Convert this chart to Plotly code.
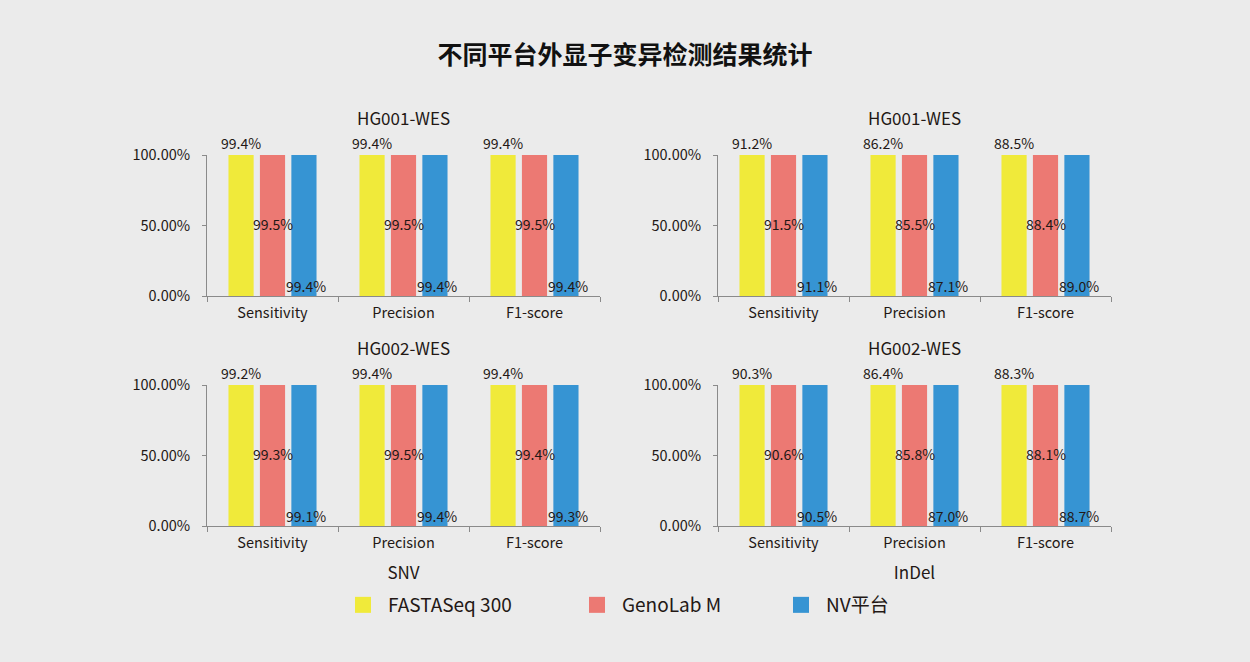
import plotly.graph_objects as go
from plotly.subplots import make_subplots

categories = ["Sensitivity", "Precision", "F1-score"]
series_names = ["FASTASeq 300", "GenoLab M", "NV平台"]
colors = ["#F0EA3A", "#EC7973", "#3694D3"]

snv_hg001 = {"FASTASeq 300": [99.4, 99.4, 99.4], "GenoLab M": [99.5, 99.5, 99.5], "NV平台": [99.4, 99.4, 99.4]}
snv_hg002 = {"FASTASeq 300": [99.2, 99.4, 99.4], "GenoLab M": [99.3, 99.5, 99.4], "NV平台": [99.1, 99.4, 99.3]}
indel_hg001 = {"FASTASeq 300": [91.2, 86.2, 88.5], "GenoLab M": [91.5, 85.5, 88.4], "NV平台": [91.1, 87.1, 89.0]}
indel_hg002 = {"FASTASeq 300": [90.3, 86.4, 88.3], "GenoLab M": [90.6, 85.8, 88.1], "NV平台": [90.5, 87.0, 88.7]}

panel_titles = ["HG001-WES", "HG001-WES", "HG002-WES", "HG002-WES"]
group_titles = ["SNV", "InDel"]
y_ticks = [0, 0.5, 1.0]

FONT = "Noto Sans CJK SC"
TXT = "#231815"
AX = "#8a8a8a"
W, H = 1250, 662
BARGAP = 0.28

panels = [(1, 1, snv_hg001), (1, 2, indel_hg001), (2, 1, snv_hg002), (2, 2, indel_hg002)]

fig = make_subplots(rows=2, cols=2)

xdom = [[207 / W, 600 / W], [718 / W, 1111 / W]]
ydom = [[1 - 296 / H, 1 - 155 / H], [1 - 526 / H, 1 - 385 / H]]

for k, (r, c, data) in enumerate(panels):
    for i, name in enumerate(series_names):
        fig.add_trace(go.Bar(
            x=categories, y=data[name], name=name,
            marker=dict(color=colors[i], line=dict(width=0)),
            showlegend=False, legendgroup=name,
        ), row=r, col=c)

# legend entries (square swatches), one legend box per entry
legend_ids = ["legend", "legend2", "legend3"]
for i, name in enumerate(series_names):
    fig.add_trace(go.Scatter(x=[None], y=[None], mode="markers", name=name, legendgroup=name,
                             legend=legend_ids[i],
                             marker=dict(symbol="square", size=16, color=colors[i]),
                             showlegend=True), row=1, col=1)

fig.update_layout(barmode="group", bargap=BARGAP, bargroupgap=0.2)

for r in (1, 2):
    for c in (1, 2):
        fig.update_xaxes(domain=xdom[c - 1], row=r, col=c, showline=True, linecolor=AX, linewidth=1,
                         ticks="outside", tickson="boundaries", ticklen=5, tickcolor=AX,
                         ticklabelstandoff=4,
                         tickfont=dict(size=14.5, color=TXT, family=FONT), showgrid=False)
        fig.update_yaxes(domain=ydom[r - 1], row=r, col=c, range=[0, 1], tickvals=y_ticks,
                         tickformat=".2%", showline=True, linecolor=AX, linewidth=1,
                         ticks="outside", ticklen=4, tickcolor=AX, showgrid=False, zeroline=False,
                         ticklabelstandoff=9,
                         tickfont=dict(size=14.5, color=TXT, family=FONT))
for c in (1, 2):
    fig.update_xaxes(title=dict(text=group_titles[c - 1], standoff=15,
                                font=dict(size=17, color=TXT, family=FONT)), row=2, col=c)

# panel titles
for k, (r, c, data) in enumerate(panels):
    fig.add_annotation(text=panel_titles[k], xref="paper", yref="paper",
                       x=sum(xdom[c - 1]) / 2, y=ydom[r - 1][1], xanchor="center", yanchor="middle",
                       yshift=38, showarrow=False, font=dict(size=17, color=TXT, family=FONT))

# value labels
axis_names = [("x", "y"), ("x2", "y2"), ("x3", "y3"), ("x4", "y4")]
ypos = [(1.0, "bottom", 0), (0.5, "middle", 2), (0.0, "bottom", -2)]
for k, (r, c, data) in enumerate(panels):
    dom = xdom[c - 1]
    cat_w = W * (dom[1] - dom[0]) / len(categories)
    slot = cat_w * (1 - BARGAP) / len(series_names)
    xa, ya = axis_names[k]
    for i, name in enumerate(series_names):
        for j, cat in enumerate(categories):
            yv, anc, ys = ypos[i]
            fig.add_annotation(x=cat, y=yv, xref=xa, yref=ya, text=f"{data[name][j]:.1f}%",
                               showarrow=False, yanchor=anc, xanchor="center",
                               xshift=(i - 1) * slot + (2 if i == 2 else 0), yshift=ys,
                               font=dict(size=14, color=TXT, family=FONT))

legend_x = [338, 572, 776]
legend_common = dict(orientation="h", xanchor="left", y=1 - 605 / H, yanchor="middle",
                     font=dict(size=19, color=TXT, family=FONT), itemsizing="trace",
                     itemwidth=40, bgcolor="rgba(0,0,0,0)")

fig.update_layout(
    width=W, height=H, autosize=False,
    margin=dict(l=0, r=0, t=0, b=0, autoexpand=False),
    paper_bgcolor="#EBEBEB", plot_bgcolor="#EBEBEB",
    font=dict(family=FONT, color=TXT),
    title=dict(text="<b>不同平台外显子变异检测结果统计</b>", x=0.5, xanchor="center",
               y=1 - 55 / H, yanchor="middle", font=dict(size=25, color="#111111", family=FONT)),
    legend=dict(x=legend_x[0] / W, **legend_common),
    legend2=dict(x=legend_x[1] / W, **legend_common),
    legend3=dict(x=legend_x[2] / W, **legend_common),
    showlegend=True,
)

fig.write_html("out.html", config={"responsive": False, "displayModeBar": False},
               post_script="document.body.style.margin='0';document.body.style.overflow='hidden';")
